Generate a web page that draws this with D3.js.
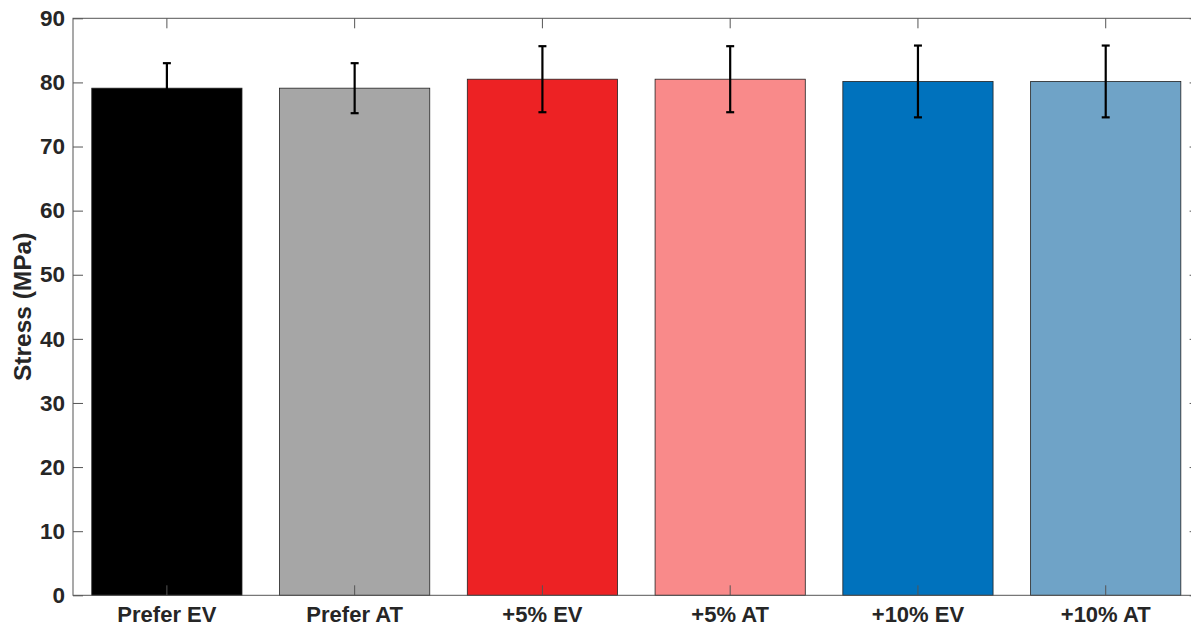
<!DOCTYPE html>
<html>
<head>
<meta charset="utf-8">
<script src="https://cdn.jsdelivr.net/npm/d3@7"></script>
<style>
  html, body { margin: 0; padding: 0; background: #fff; }
  svg { display: block; }
  text { font-family: "Liberation Sans", Arial, Helvetica, sans-serif; font-weight: bold; fill: #262626; }
</style>
</head>
<body>
<svg id="chart" width="1191" height="629"></svg>
<script>
// Stress per test group, mean and standard deviation (MPa)
const categories = ["Prefer EV", "Prefer AT", "+5% EV", "+5% AT", "+10% EV", "+10% AT"];
const means = [79.1, 79.1, 80.5, 80.5, 80.15, 80.15];
const stdDevs = [3.9, 3.9, 5.15, 5.15, 5.6, 5.6];
const barColors = ["#000000", "#a6a6a6", "#ed2224", "#f98a8a", "#0072bd", "#6fa3c7"];
const yTicks = [0, 10, 20, 30, 40, 50, 60, 70, 80, 90];

const svg = d3.select("#chart");
const plot = { left: 73, right: 1199.6, top: 18.3, bottom: 595.3 };

const x = d3.scaleBand()
  .domain(categories)
  .range([plot.left, plot.right])
  .paddingInner(0.2)
  .paddingOuter(0.1);

const y = d3.scaleLinear()
  .domain([0, 90])
  .range([plot.bottom, plot.top]);

const axisColor = "#555";
const tickLen = 10;

// Bars
svg.append("g").selectAll("rect")
  .data(categories)
  .join("rect")
  .attr("x", d => x(d))
  .attr("y", (d, i) => y(means[i]))
  .attr("width", x.bandwidth())
  .attr("height", (d, i) => y(0) - y(means[i]))
  .attr("fill", (d, i) => barColors[i])
  .attr("stroke", "#222")
  .attr("stroke-width", 0.8);

// Error bars
const eb = svg.append("g").attr("stroke", "#000").attr("stroke-width", 2.2);
categories.forEach((c, i) => {
  const cx = x(c) + x.bandwidth() / 2;
  const hi = y(means[i] + stdDevs[i]);
  const lo = y(means[i] - stdDevs[i]);
  eb.append("line").attr("x1", cx).attr("x2", cx).attr("y1", hi).attr("y2", lo);
  eb.append("line").attr("x1", cx - 4).attr("x2", cx + 4).attr("y1", hi).attr("y2", hi);
  eb.append("line").attr("x1", cx - 4).attr("x2", cx + 4).attr("y1", lo).attr("y2", lo);
});

// Axes box
const axes = svg.append("g").attr("fill", "none").attr("stroke", axisColor).attr("stroke-width", 1);
axes.append("rect")
  .attr("x", plot.left).attr("y", plot.top)
  .attr("width", plot.right - plot.left).attr("height", plot.bottom - plot.top);

// Left axis with inward ticks
const yAxis = d3.axisLeft(y).tickValues(yTicks).tickSize(-tickLen).tickPadding(8);
const gy = svg.append("g").attr("transform", `translate(${plot.left},0)`).call(yAxis);
gy.select(".domain").remove();
gy.selectAll(".tick line").attr("stroke", axisColor);
gy.selectAll(".tick text").attr("font-size", 22.5).attr("fill", "#262626")
  .attr("font-family", '"Liberation Sans", Arial, sans-serif').attr("font-weight", "bold");

// Right axis ticks (inward)
const gyr = svg.append("g").attr("transform", `translate(${plot.right},0)`)
  .call(d3.axisRight(y).tickValues(yTicks).tickSize(-tickLen).tickFormat(""));
gyr.select(".domain").remove();
gyr.selectAll(".tick line").attr("stroke", axisColor);

// Bottom axis with inward ticks
const xAxis = d3.axisBottom(x).tickSize(-tickLen).tickPadding(11);
const gx = svg.append("g").attr("transform", `translate(0,${plot.bottom})`).call(xAxis);
gx.select(".domain").remove();
gx.selectAll(".tick line").attr("stroke", axisColor);
gx.selectAll(".tick text").attr("font-size", 22).attr("fill", "#262626")
  .attr("font-family", '"Liberation Sans", Arial, sans-serif').attr("font-weight", "bold");

// Top axis ticks (inward)
const gxt = svg.append("g").attr("transform", `translate(0,${plot.top})`)
  .call(d3.axisTop(x).tickSize(-tickLen).tickFormat(""));
gxt.select(".domain").remove();
gxt.selectAll(".tick line").attr("stroke", axisColor);

// Y axis title
svg.append("text")
  .attr("transform", `translate(31,${(plot.top + plot.bottom) / 2}) rotate(-90)`)
  .attr("text-anchor", "middle")
  .attr("font-size", 24.5)
  .text("Stress (MPa)");
</script>
</body>
</html>
